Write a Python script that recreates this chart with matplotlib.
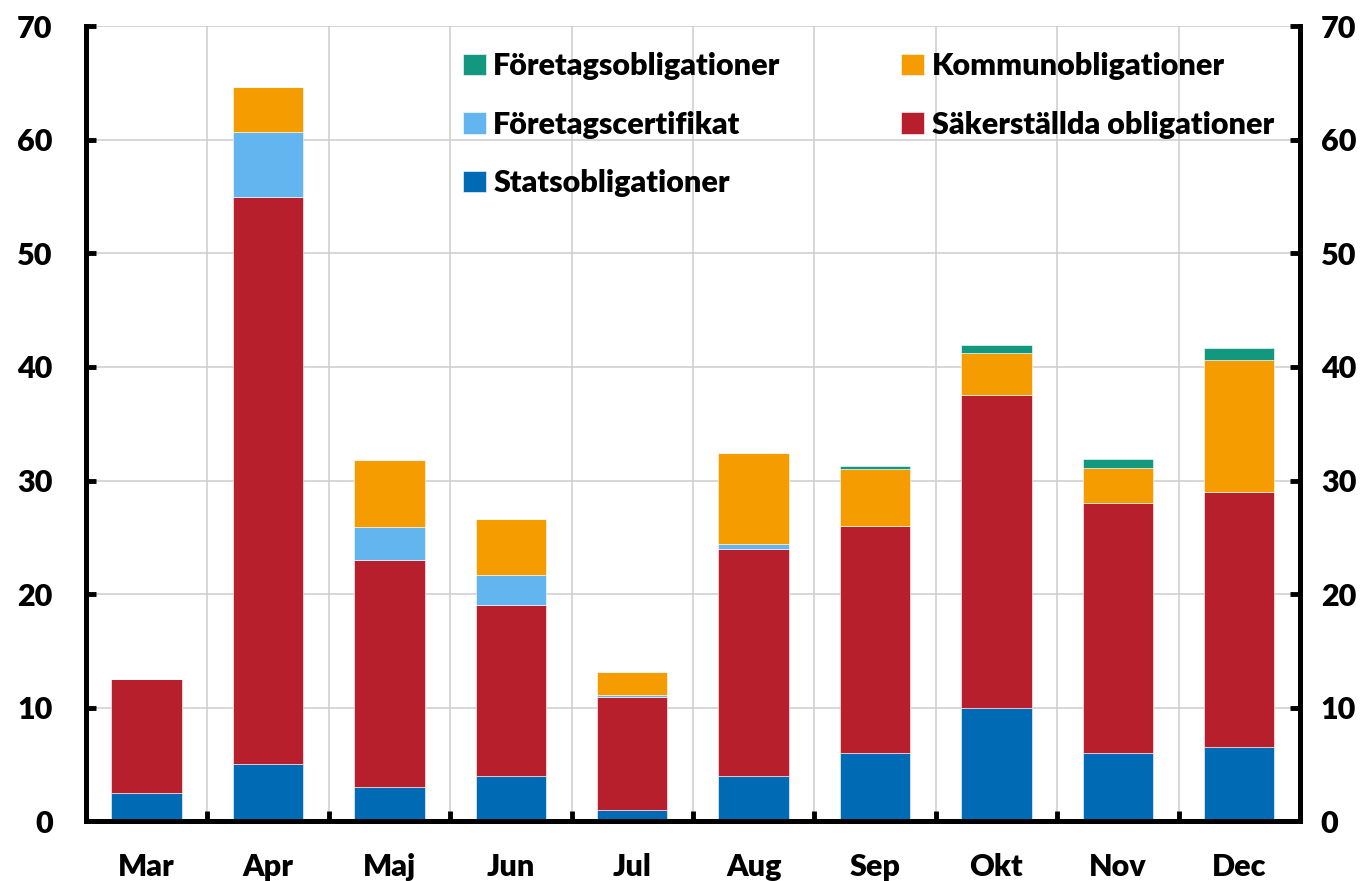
import numpy as np
import matplotlib
matplotlib.use("Agg")
import matplotlib.pyplot as plt

plt.rcParams['font.family'] = ['Lato', 'DejaVu Sans']
plt.rcParams['font.weight'] = 'heavy'

# === Data (stacked values) ===
months = ['Mar', 'Apr', 'Maj', 'Jun', 'Jul', 'Aug', 'Sep', 'Okt', 'Nov', 'Dec']
stats = [2.5, 5.0, 3.0, 4.0, 0.95, 4.0, 6.0, 10.0, 6.0, 6.5]
sakerstallda = [10.0, 50.0, 20.0, 15.0, 10.0, 20.0, 20.0, 27.5, 22.0, 22.5]
certifikat = [0.0, 5.7, 2.9, 2.7, 0.2, 0.45, 0.0, 0.0, 0.0, 0.0]
kommun = [0.0, 4.0, 5.9, 4.9, 2.0, 8.0, 5.0, 3.7, 3.1, 11.65]
foretagsobl = [0.0, 0.0, 0.0, 0.0, 0.0, 0.0, 0.3, 0.7, 0.8, 1.0]

series = [
    ('Statsobligationer', stats, '#006AB4'),
    ('Säkerställda obligationer', sakerstallda, '#B81F2D'),
    ('Företagscertifikat', certifikat, '#62B5EF'),
    ('Kommunobligationer', kommun, '#F59C00'),
    ('Företagsobligationer', foretagsobl, '#12987F'),
]
FS = 22

fig = plt.figure(figsize=(13.71, 8.81), dpi=100)
ax = fig.add_axes([0.0627, 0.068, 0.8855, 0.902])

x = np.arange(len(months))
bottom = np.zeros(len(months))
handles = {}
for name, vals, col in series:
    vals = np.array(vals)
    b = ax.bar(x, vals, width=0.58, bottom=bottom, color=col, zorder=3,
               edgecolor='white', linewidth=0.4)
    handles[name] = b
    bottom += vals

ax.set_xlim(-0.5, len(months) - 0.5)
ax.set_ylim(0, 70)
ax.set_yticks(np.arange(0, 71, 10))

# category labels in the middle, ticks/grid on the boundaries
ax.set_xticks(np.arange(-0.5, len(months), 1.0))
ax.set_xticklabels([])
ax.set_xticks(x, minor=True)
ax.set_xticklabels(months, minor=True, fontsize=FS, fontweight='heavy')
ax.tick_params(axis='x', which='minor', length=0, pad=23)
ax.tick_params(axis='x', which='major', direction='in', length=7, width=3.5)

ax.grid(True, axis='both', which='major', color='#CDCDCD', linewidth=1.1, zorder=0)

ax.tick_params(axis='y', direction='in', length=7, width=3.5, labelsize=FS,
               pad=24, left=True, right=True, labelleft=True, labelright=False)
for lab in ax.get_yticklabels():
    lab.set_fontweight('heavy')

# right side labels
ax2 = ax.twinx()
ax2.set_ylim(0, 70)
ax2.set_yticks(np.arange(0, 71, 10))
ax2.tick_params(axis='y', direction='in', length=7, width=3.5, labelsize=FS, pad=15)
for lab in ax2.get_yticklabels():
    lab.set_fontweight('heavy')

for a in (ax, ax2):
    a.spines['top'].set_visible(False)
    for s in ('left', 'right', 'bottom'):
        a.spines[s].set_linewidth(3.5)
        a.spines[s].set_color('black')

order = ['Företagsobligationer', 'Företagscertifikat', 'Statsobligationer',
         'Kommunobligationer', 'Säkerställda obligationer']
leg = ax2.legend([handles[n] for n in order], order, ncol=2, loc='upper left',
                 bbox_to_anchor=(0.3175, 0.972), bbox_transform=fig.transFigure,
                 frameon=False, handlelength=0.75, handleheight=0.7,
                 handletextpad=0.25, labelspacing=1.0, columnspacing=3.95,
                 prop={'weight': 'heavy', 'size': FS})

fig.savefig('out.png', dpi=100)
